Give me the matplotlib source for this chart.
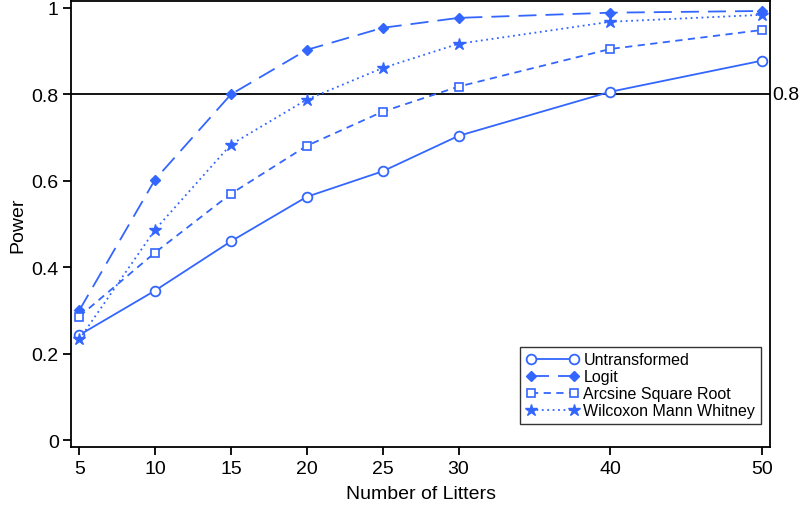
import matplotlib
matplotlib.use('Agg')
import matplotlib.pyplot as plt

plt.rcParams['font.family'] = ['Liberation Sans', 'DejaVu Sans']

# number of litters
litters = [5, 10, 15, 20, 25, 30, 40, 50]
# estimated power for each method
untransformed = [0.243, 0.346, 0.460, 0.563, 0.622, 0.704, 0.806, 0.878]
logit = [0.300, 0.603, 0.800, 0.903, 0.954, 0.977, 0.989, 0.993]
arcsine = [0.286, 0.434, 0.570, 0.681, 0.760, 0.818, 0.905, 0.949]
wilcoxon = [0.233, 0.487, 0.684, 0.788, 0.861, 0.917, 0.968, 0.984]
yticks = [0, 0.2, 0.4, 0.6, 0.8, 1]
ytick_labels = ['0', '0.2', '0.4', '0.6', '0.8', '1']

blue = '#3366FF'

fig = plt.figure(figsize=(8, 5.06), dpi=100)
ax = fig.add_axes([0.089, 0.1146, 0.8735, 0.8814])

ax.plot(litters, untransformed, color=blue, lw=1.3, ls='-', marker='o', ms=7,
        mfc='white', mec=blue, mew=1.3, label='Untransformed')
ax.plot(litters, logit, color=blue, lw=1.3, ls=(0, (10, 5)), marker='D', ms=5.5,
        mfc=blue, mec=blue, label='Logit')
ax.plot(litters, arcsine, color=blue, lw=1.3, ls=(0, (4, 3)), marker='s', ms=5.5,
        mfc='white', mec=blue, mew=1.2, label='Arcsine Square Root')
ax.plot(litters, wilcoxon, color=blue, lw=1.3, ls=(0, (1, 2)), marker='*', ms=9,
        mfc=blue, mec=blue, label='Wilcoxon Mann Whitney')

ax.axhline(0.8, color='black', lw=1.3, zorder=1)
ax.text(1.003, 0.8, '0.8', transform=ax.get_yaxis_transform(), va='center',
        ha='left', fontsize=14)

ax.set_xlim(4.47, 50.53)
ax.set_ylim(-0.016, 1.016)
ax.set_xticks(litters)
ax.set_yticks(yticks)
ax.set_yticklabels(ytick_labels)
ax.tick_params(direction='out', length=6, width=1.3, labelsize=14, pad=3)
for s in ax.spines.values():
    s.set_linewidth(1.3)

ax.set_xlabel('Number of Litters', fontsize=14, labelpad=6)
ax.set_ylabel('Power', fontsize=14, labelpad=4)

leg = ax.legend(loc='lower right', bbox_to_anchor=(0.987, 0.052), borderaxespad=0,
                fontsize=11.5, frameon=True, fancybox=False, edgecolor='black',
                handlelength=3.3, numpoints=2, labelspacing=0.12, borderpad=0.35,
                handletextpad=0.3)
leg.get_frame().set_linewidth(1.0)

plt.savefig('out.png', dpi=100)
